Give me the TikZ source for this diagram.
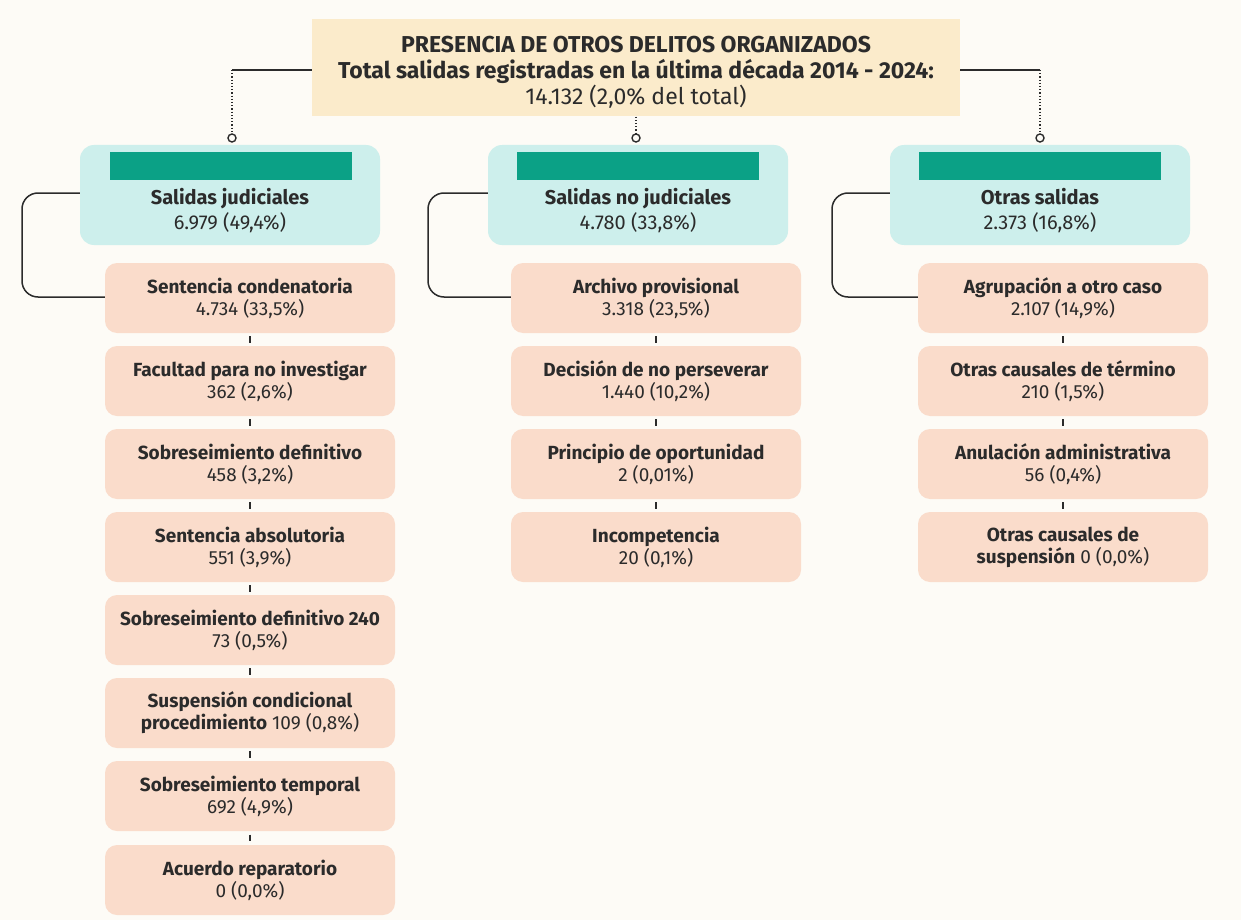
\documentclass[tikz,border=0pt]{standalone}
\usepackage{fontspec}
\setmainfont{Fira Sans}
\usetikzlibrary{positioning,calc}
\definecolor{pagebg}{HTML}{FDFBF6}
\definecolor{topfill}{HTML}{FBEBCB}
\definecolor{catfill}{HTML}{CDEFEC}
\definecolor{barteal}{HTML}{0BA186}
\definecolor{leaffill}{HTML}{FADCCB}
\definecolor{inkdark}{HTML}{2B2B2B}
\tikzset{
  topbox/.style={fill=topfill,minimum width=648pt,minimum height=97pt,inner sep=0pt},
  toptext/.style={align=center,inner sep=0pt,font=\fontsize{23}{26}\selectfont,text=inkdark},
  catbox/.style={fill=catfill,rounded corners=14pt,minimum width=300pt,minimum height=100pt,inner sep=0pt},
  tealbar/.style={fill=barteal,minimum width=242pt,minimum height=28pt,inner sep=0pt},
  cattext/.style={align=center,font=\fontsize{20}{25}\selectfont,text=inkdark},
  leafbox/.style={fill=leaffill,rounded corners=12pt,minimum width=290pt,minimum height=70pt,align=center,inner sep=0pt,font=\fontsize{19}{22}\selectfont,text=inkdark},
  tick/.style={line width=2pt,inkdark},
  bracket/.style={line width=1.5pt,inkdark,rounded corners=16pt},
  dotlink/.style={line width=1.2pt,inkdark,dotted},
  endring/.style={circle,draw=inkdark,line width=1.4pt,fill=pagebg,minimum size=8pt,inner sep=0pt}
}
\begin{document}
\begin{tikzpicture}[x=1pt,y=-1pt]
\fill[pagebg] (0,0) rectangle (1241,920);
\useasboundingbox (0,0) rectangle (1241,920);
% header
\node[topbox] (top) at (636,68) {};
\node[toptext] (title) at (636,72) {\textbf{PRESENCIA DE OTROS DELITOS ORGANIZADOS}\\\textbf{Total salidas registradas en la última década 2014 - 2024:}\\14.132 (2,0\% del total)};
% categories
\node[catbox] (judi) at (230,195) {};
\node[catbox] (nojudi) at (638,195) {};
\node[catbox] (otras) at (1040,195) {};
\node[tealbar] (barjudi) at (231,166) {};
\node[tealbar] (barnojudi) at (638,166) {};
\node[tealbar] (barotras) at (1040,166) {};
\node[cattext] (tjudi) at (230,211) {\textbf{Salidas judiciales}\\6.979 (49,4\%)};
\node[cattext] (tnojudi) at (638,211) {\textbf{Salidas no judiciales}\\4.780 (33,8\%)};
\node[cattext] (totras) at (1040,211) {\textbf{Otras salidas}\\2.373 (16,8\%)};
% ring ends of the header links
\node[endring] (rjudi) at (232,138) {};
\node[endring] (rnojudi) at (636,138) {};
\node[endring] (rotras) at (1040,138) {};
\draw[line width=1.5pt,inkdark] (top.west |- 0,70) -- (232,70) coordinate (cl);
\draw[line width=1.5pt,inkdark] (top.east |- 0,70) -- (1040,70) coordinate (cr);
\draw[dotlink] (cl) -- (rjudi.north);
\draw[dotlink] (cr) -- (rotras.north);
\draw[dotlink] (top.south -| rnojudi) -- (rnojudi.north);
% judicial column
\node[leafbox] (j1) at (250,298) {\textbf{Sentencia condenatoria}\\4.734 (33,5\%)};
\node[leafbox] (j2) at (250,381) {\textbf{Facultad para no investigar}\\362 (2,6\%)};
\node[leafbox] (j3) at (250,464) {\textbf{Sobreseimiento definitivo}\\458 (3,2\%)};
\node[leafbox] (j4) at (250,547) {\textbf{Sentencia absolutoria}\\551 (3,9\%)};
\node[leafbox] (j5) at (250,630) {\textbf{Sobreseimiento definitivo 240}\\73 (0,5\%)};
\node[leafbox] (j6) at (250,713) {\textbf{Suspensión condicional}\\\textbf{procedimiento} 109 (0,8\%)};
\node[leafbox] (j7) at (250,796) {\textbf{Sobreseimiento temporal}\\692 (4,9\%)};
\node[leafbox] (j8) at (250,880) {\textbf{Acuerdo reparatorio}\\0 (0,0\%)};
% non-judicial column
\node[leafbox] (n1) at (656,298) {\textbf{Archivo provisional}\\3.318 (23,5\%)};
\node[leafbox] (n2) at (656,381) {\textbf{Decisión de no perseverar}\\1.440 (10,2\%)};
\node[leafbox] (n3) at (656,464) {\textbf{Principio de oportunidad}\\2 (0,01\%)};
\node[leafbox] (n4) at (656,547) {\textbf{Incompetencia}\\20 (0,1\%)};
% other column
\node[leafbox] (o1) at (1063,298) {\textbf{Agrupación a otro caso}\\2.107 (14,9\%)};
\node[leafbox] (o2) at (1063,381) {\textbf{Otras causales de término}\\210 (1,5\%)};
\node[leafbox] (o3) at (1063,464) {\textbf{Anulación administrativa}\\56 (0,4\%)};
\node[leafbox] (o4) at (1063,547) {\textbf{Otras causales de}\\\textbf{suspensión} 0 (0,0\%)};
% brackets
\draw[bracket] (judi.west |- 0,193) -- (22,193) -- (22,297) -- (j1.west |- 0,297);
\draw[bracket] (nojudi.west |- 0,193) -- (428,193) -- (428,297) -- (n1.west |- 0,297);
\draw[bracket] (otras.west |- 0,193) -- (832,193) -- (832,297) -- (o1.west |- 0,297);
% ticks
\foreach \a/\b in {j1/j2,j2/j3,j3/j4,j4/j5,j5/j6,j6/j7,j7/j8,n1/n2,n2/n3,n3/n4,o1/o2,o2/o3,o3/o4}
  \draw[tick] ($(\a.south)!0.25!(\b.north)$) -- ($(\a.south)!0.75!(\b.north)$);
\end{tikzpicture}
\end{document}
